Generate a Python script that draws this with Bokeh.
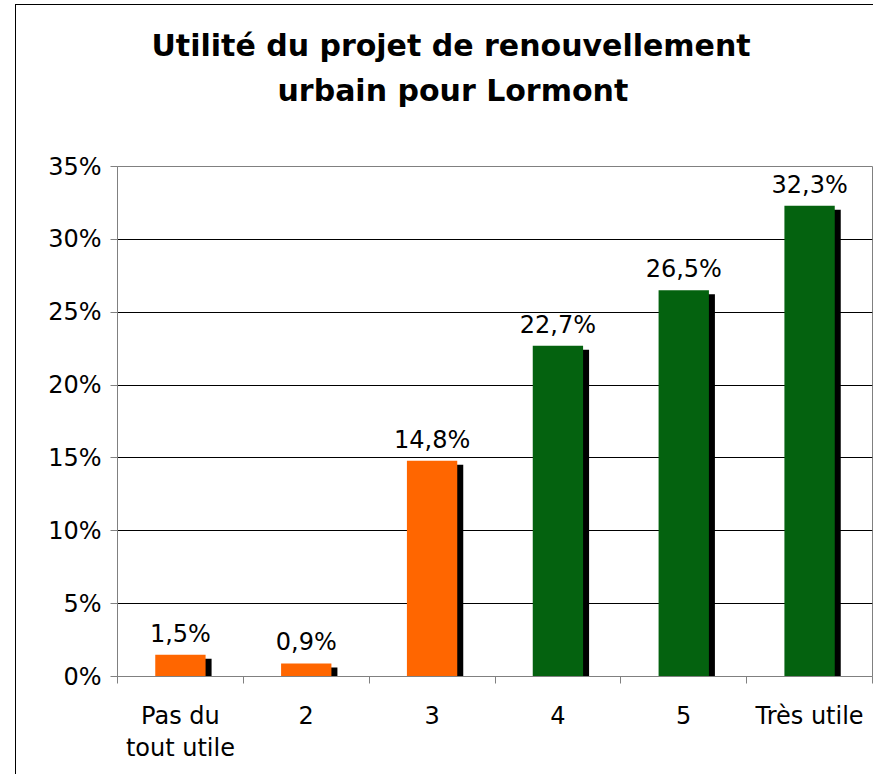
from bokeh.plotting import figure
from bokeh.models import Range1d, FixedTicker, Title, ColumnDataSource
from bokeh.core.properties import value
from bokeh.embed import file_html
from bokeh.resources import INLINE

# ---- data ----
categories = ["Pas du\ntout utile", "2", "3", "4", "5", "Très utile"]
values = [0.015, 0.009, 0.148, 0.227, 0.265, 0.323]
value_labels = ["1,5%", "0,9%", "14,8%", "22,7%", "26,5%", "32,3%"]
bar_colors = ["#FF6600", "#FF6600", "#FF6600", "#04620F", "#04620F", "#04620F"]
y_ticks = [0.0, 0.05, 0.10, 0.15, 0.20, 0.25, 0.30, 0.35]
y_tick_labels = ["0%", "5%", "10%", "15%", "20%", "25%", "30%", "35%"]
title_lines = ["Utilité du projet de renouvellement", "urbain pour Lormont"]

# ---- layout ----
W, H = 858, 770
ML, MR, MT, MB = 101, 2, 161, 99
FW, FH = W - ML - MR, H - MT - MB
n = len(categories)
ymax = y_ticks[-1]
px_x = FW / n
px_y = FH / ymax
FONT = "DejaVu Sans"

centers = [i + 0.5 for i in range(n)]
bw = 0.4
sdx = 6 / px_x
sdy = 4 / px_y

src = ColumnDataSource(dict(
    x=centers, top=values, color=bar_colors, label=value_labels,
    left=[c - bw / 2 for c in centers], right=[c + bw / 2 for c in centers],
    sleft=[c - bw / 2 + sdx for c in centers], sright=[c + bw / 2 + sdx for c in centers],
    stop=[v - sdy for v in values],
))

p = figure(width=W, height=H, output_backend="svg", toolbar_location=None,
           x_range=Range1d(0, n), y_range=Range1d(0, ymax),
           min_border_left=ML, min_border_right=MR, min_border_top=MT, min_border_bottom=MB)
p.background_fill_color = "white"
p.border_fill_color = "white"
p.outline_line_color = "#808080"
p.outline_line_width = 1
# outer chart border (left and top edges visible in the picture)
p.styles = {"margin-left": "15px", "margin-top": "4px",
            "border-left": "1px solid black", "border-top": "1px solid black"}

# axes
xa = p.xaxis[0]
xa.ticker = FixedTicker(ticks=centers, minor_ticks=list(range(n + 1)))
xa.major_label_overrides = {c: lab for c, lab in zip(centers, categories)}
xa.major_tick_line_color = None
xa.minor_tick_line_color = "#808080"
xa.minor_tick_out = 7
xa.minor_tick_in = 0
xa.axis_line_color = "#808080"
xa.major_label_standoff = 18
xa.major_label_text_font = FONT
xa.major_label_text_font_size = "24px"
xa.major_label_text_line_height = 1.15
xa.major_label_text_color = "black"

ya = p.yaxis[0]
ya.ticker = FixedTicker(ticks=y_ticks)
ya.major_label_overrides = {t: lab for t, lab in zip(y_ticks, y_tick_labels)}
ya.major_tick_line_color = "#808080"
ya.major_tick_out = 7
ya.major_tick_in = 0
ya.minor_tick_line_color = None
ya.axis_line_color = "#808080"
ya.major_label_standoff = 9
ya.major_label_text_font = FONT
ya.major_label_text_font_size = "24px"
ya.major_label_text_color = "black"

p.xgrid.visible = False
p.ygrid.ticker = FixedTicker(ticks=y_ticks[1:-1])
p.ygrid.grid_line_color = "black"
p.ygrid.grid_line_width = 1

# shadows and bars
p.quad(left="sleft", right="sright", top="stop", bottom=0, source=src,
       fill_color="black", line_color=None)
p.quad(left="left", right="right", top="top", bottom=0, source=src,
       fill_color="color", line_color=None)

# value labels
p.text(x="x", y="top", text="label", source=src, text_align="center",
       text_baseline="alphabetic", y_offset=-21, text_font=value(FONT),
       text_font_size="24px", text_color="black")

# title: spacer closest to the frame, then second line, then first line
p.add_layout(Title(text=" ", text_font_size="1px", standoff=56), "above")
for line, off, so in ((title_lines[1], 160, 0), (title_lines[0], 34, 16)):
    p.add_layout(Title(text=line, align="left", offset=off, text_font=FONT,
                       text_font_size="30px", text_font_style="bold",
                       text_color="black", standoff=so), "above")

open("out.html", "w").write(file_html(p, INLINE))
